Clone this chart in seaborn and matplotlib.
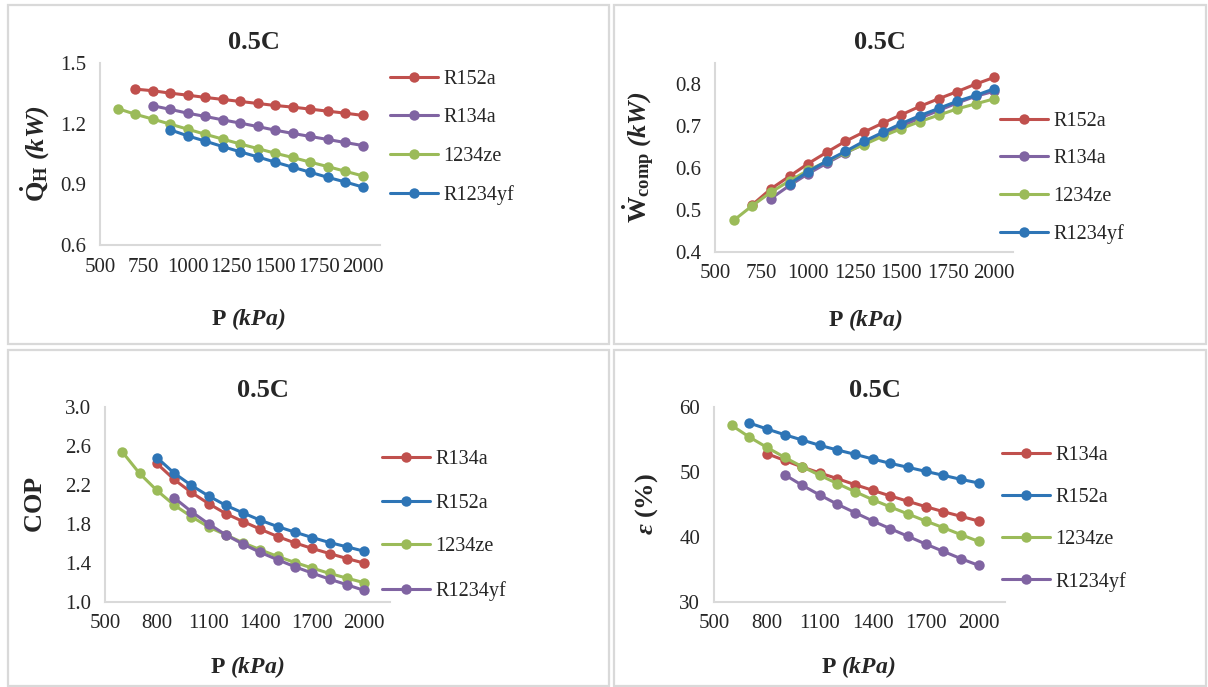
import numpy as np
import pandas as pd
import matplotlib
matplotlib.use("Agg")
import matplotlib.pyplot as plt
from matplotlib.lines import Line2D
from matplotlib.patches import Rectangle
import seaborn as sns

# ---------------- data ----------------
P_600 = [600, 700, 800, 900, 1000, 1100, 1200, 1300, 1400, 1500, 1600, 1700, 1800, 1900, 2000]
P_700 = P_600[1:]
P_800 = P_600[2:]
P_900 = P_600[3:]

# Panel 1: heating capacity Q_H (kW)
qh_r152a = [1.371, 1.363, 1.351, 1.341, 1.330, 1.320, 1.310, 1.300, 1.290, 1.282, 1.272, 1.262, 1.252, 1.241]   # 700..2000
qh_r134a = [1.289, 1.271, 1.252, 1.236, 1.219, 1.203, 1.186, 1.168, 1.152, 1.137, 1.122, 1.107, 1.092]          # 800..2000
qh_1234ze = [1.275, 1.247, 1.223, 1.198, 1.173, 1.148, 1.124, 1.100, 1.077, 1.054, 1.033, 1.010, 0.988, 0.965, 0.942]  # 600..2000
qh_r1234yf = [1.170, 1.140, 1.114, 1.087, 1.061, 1.036, 1.010, 0.985, 0.960, 0.935, 0.912, 0.887]               # 900..2000

# Panel 2: compressor work W_comp (kW)
w_r152a = [0.512, 0.550, 0.580, 0.610, 0.637, 0.663, 0.685, 0.706, 0.726, 0.746, 0.764, 0.781, 0.799, 0.815]    # 700..2000
w_r134a = [0.527, 0.558, 0.586, 0.611, 0.635, 0.657, 0.679, 0.699, 0.718, 0.736, 0.754, 0.770, 0.782]           # 800..2000
w_1234ze = [0.475, 0.510, 0.542, 0.569, 0.594, 0.615, 0.637, 0.655, 0.675, 0.693, 0.710, 0.725, 0.740, 0.752, 0.764]  # 600..2000
w_r1234yf = [0.562, 0.591, 0.616, 0.639, 0.663, 0.684, 0.705, 0.724, 0.741, 0.758, 0.772, 0.788]                # 900..2000

# Panel 3: COP
cop_r134a = [2.421, 2.257, 2.124, 2.009, 1.906, 1.825, 1.746, 1.671, 1.606, 1.549, 1.497, 1.446, 1.399]        # 800..2000
cop_r152a = [2.482, 2.322, 2.196, 2.087, 1.991, 1.913, 1.838, 1.773, 1.716, 1.661, 1.610, 1.566, 1.521]        # 800..2000
cop_1234ze = [2.540, 2.319, 2.145, 1.995, 1.876, 1.770, 1.688, 1.607, 1.535, 1.467, 1.405, 1.348, 1.293, 1.245, 1.198]  # 600..2000
cop_r1234yf = [2.070, 1.927, 1.801, 1.688, 1.593, 1.508, 1.433, 1.361, 1.296, 1.235, 1.177, 1.119]             # 900..2000

# Panel 4: exergy efficiency (%)
ex_r134a = [52.82, 51.79, 50.77, 49.85, 48.97, 48.05, 47.18, 46.31, 45.49, 44.67, 43.90, 43.18, 42.46]          # 800..2000
ex_r152a = [57.54, 56.62, 55.74, 54.92, 54.10, 53.38, 52.72, 52.00, 51.33, 50.72, 50.10, 49.49, 48.87, 48.31]   # 700..2000
ex_1234ze = [57.18, 55.38, 53.79, 52.26, 50.82, 49.49, 48.21, 46.97, 45.74, 44.62, 43.54, 42.46, 41.44, 40.36, 39.33]  # 600..2000
ex_r1234yf = [49.59, 47.95, 46.46, 45.03, 43.74, 42.46, 41.28, 40.10, 38.92, 37.79, 36.67, 35.64]               # 900..2000

titles = ["0.5C", "0.5C", "0.5C", "0.5C"]
xticks_top = [500, 750, 1000, 1250, 1500, 1750, 2000]
xticks_bot = [500, 800, 1100, 1400, 1700, 2000]
yticks_qh = [0.6, 0.9, 1.2, 1.5]
yticks_w = [0.4, 0.5, 0.6, 0.7, 0.8]
yticks_cop = [1.0, 1.4, 1.8, 2.2, 2.6, 3.0]
yticks_ex = [30, 40, 50, 60]

RED, PURPLE, GREEN, BLUE = "#C0504D", "#8064A2", "#9BBB59", "#2E75B6"

def long_df(series):
    frames = []
    for name, xs, ys in series:
        frames.append(pd.DataFrame({"P": xs, "val": ys, "series": name}))
    return pd.concat(frames, ignore_index=True)

panels = [
    dict(series=[("R152a", P_700, qh_r152a), ("R134a", P_800, qh_r134a),
                 ("1234ze", P_600, qh_1234ze), ("R1234yf", P_900, qh_r1234yf)],
         colors=[RED, PURPLE, GREEN, BLUE],
         rect_px=(100, 380, 63, 245), xticks=xticks_top, xlim=(500, 2100),
         yticks=yticks_qh, ylim=(0.6, 1.5), yfmt="{:.1f}",
         ylabel=r"$\mathbf{\dot{Q}_H}\ \mathbfit{(kW)}$",
         ylab_x=-0.17, xlab=(0.53, -0.335), title=(0.55, 1.11),
         leg=(390, 137.5, 0.97)),
    dict(series=[("R152a", P_700, w_r152a), ("R134a", P_800, w_r134a),
                 ("1234ze", P_600, w_1234ze), ("R1234yf", P_900, w_r1234yf)],
         colors=[RED, PURPLE, GREEN, BLUE],
         rect_px=(715, 1013, 63, 252), xticks=xticks_top, xlim=(500, 2100),
         yticks=yticks_w, ylim=(0.4, 0.849), yfmt="{:.1f}",
         ylabel=r"$\mathbf{\dot{W}_{comp}}\ \mathbfit{(kW)}$",
         ylab_x=-0.195, xlab=(0.503, -0.29), title=(0.554, 1.106),
         leg=(1000, 178, 0.92)),
    dict(series=[("R134a", P_800, cop_r134a), ("R152a", P_800, cop_r152a),
                 ("1234ze", P_600, cop_1234ze), ("R1234yf", P_900, cop_r1234yf)],
         colors=[RED, BLUE, GREEN, PURPLE],
         rect_px=(105, 390, 407, 602), xticks=xticks_bot, xlim=(500, 2150),
         yticks=yticks_cop, ylim=(1.0, 3.0), yfmt="{:.1f}",
         ylabel=r"$\mathbf{COP}$",
         ylab_x=-0.204, xlab=(0.498, -0.267), title=(0.555, 1.087),
         leg=(382, 525.5, 1.22)),
    dict(series=[("R134a", P_800, ex_r134a), ("R152a", P_700, ex_r152a),
                 ("1234ze", P_600, ex_1234ze), ("R1234yf", P_900, ex_r1234yf)],
         colors=[RED, BLUE, GREEN, PURPLE],
         rect_px=(714, 1005, 407, 602), xticks=xticks_bot, xlim=(500, 2150),
         yticks=yticks_ex, ylim=(30, 60), yfmt="{:.0f}",
         ylabel=r"$\mathbfit{\varepsilon}\ \mathbf{(\%)}$",
         ylab_x=-0.186, xlab=(0.495, -0.267), title=(0.553, 1.087),
         leg=(1002, 518.5, 1.14)),
]

# ---------------- style ----------------
sns.set_style("white")
plt.rcParams["font.family"] = ["Liberation Serif", "DejaVu Serif"]
plt.rcParams["mathtext.fontset"] = "custom"
plt.rcParams["mathtext.rm"] = "Liberation Serif"
plt.rcParams["mathtext.it"] = "Liberation Serif:italic"
plt.rcParams["mathtext.bf"] = "Liberation Serif:bold"
plt.rcParams["mathtext.bfit"] = "Liberation Serif:bold:italic"

W, H = 1208, 687
fig = plt.figure(figsize=(W / 100, H / 100), dpi=100)

# panel frames
for (x0, x1, y0, y1) in [(8, 609, 5, 344), (614, 1206, 5, 344), (8, 609, 350, 686), (614, 1206, 350, 686)]:
    fig.add_artist(Rectangle((x0 / W, 1 - y1 / H), (x1 - x0) / W, (y1 - y0) / H,
                             transform=fig.transFigure, fill=False,
                             edgecolor="#D9D9D9", linewidth=1.6))

TXT = "#262626"
for i, p in enumerate(panels):
    l, r, t, b = p["rect_px"]
    ax = fig.add_axes([l / W, 1 - b / H, (r - l) / W, (b - t) / H])
    df = long_df(p["series"])
    names = [s[0] for s in p["series"]]
    pal = dict(zip(names, p["colors"]))
    sns.lineplot(data=df, x="P", y="val", hue="series", hue_order=names, palette=pal,
                 marker="o", markersize=7.5, markeredgewidth=0, linewidth=2.2,
                 ax=ax, legend=False, sort=False, zorder=3)
    ax.set_xlim(*p["xlim"])
    ax.set_ylim(*p["ylim"])
    ax.set_xticks(p["xticks"])
    ax.set_xticklabels([str(v) for v in p["xticks"]])
    ax.set_yticks(p["yticks"])
    ax.set_yticklabels([p["yfmt"].format(v) for v in p["yticks"]])
    for s in ["top", "right"]:
        ax.spines[s].set_visible(False)
    for s in ["left", "bottom"]:
        ax.spines[s].set_color("#D9D9D9")
        ax.spines[s].set_linewidth(1.5)
    ax.tick_params(axis="both", length=0, labelsize=15, labelcolor=TXT)
    ax.tick_params(axis="y", pad=10)
    ax.tick_params(axis="x", pad=9)
    ax.set_facecolor("none")
    ax.set_ylabel(p["ylabel"], fontsize=19, color=TXT)
    ax.yaxis.set_label_coords(p["ylab_x"], 0.5)
    ax.set_xlabel(r"$\mathbf{P}\ \mathbfit{(kPa)}$", fontsize=17, color=TXT)
    ax.xaxis.set_label_coords(*p["xlab"])
    ax.text(p["title"][0], p["title"][1], titles[i], transform=ax.transAxes,
            ha="center", va="center", fontsize=19, fontweight="bold", color=TXT)
    handles = [Line2D([], [], color=c, marker="o", markersize=7.5, markeredgewidth=0, linewidth=2.2)
               for c in p["colors"]]
    lx, ly, ls = p["leg"]
    leg = ax.legend(handles, names, loc="center left", bbox_to_anchor=(lx / W, 1 - ly / H),
                    bbox_transform=fig.transFigure, frameon=False, fontsize=14.5,
                    handlelength=2.4, handletextpad=0.25, labelspacing=ls,
                    borderpad=0, borderaxespad=0)
    for t_ in leg.get_texts():
        t_.set_color(TXT)

fig.savefig("out.png", dpi=100, facecolor="white")
